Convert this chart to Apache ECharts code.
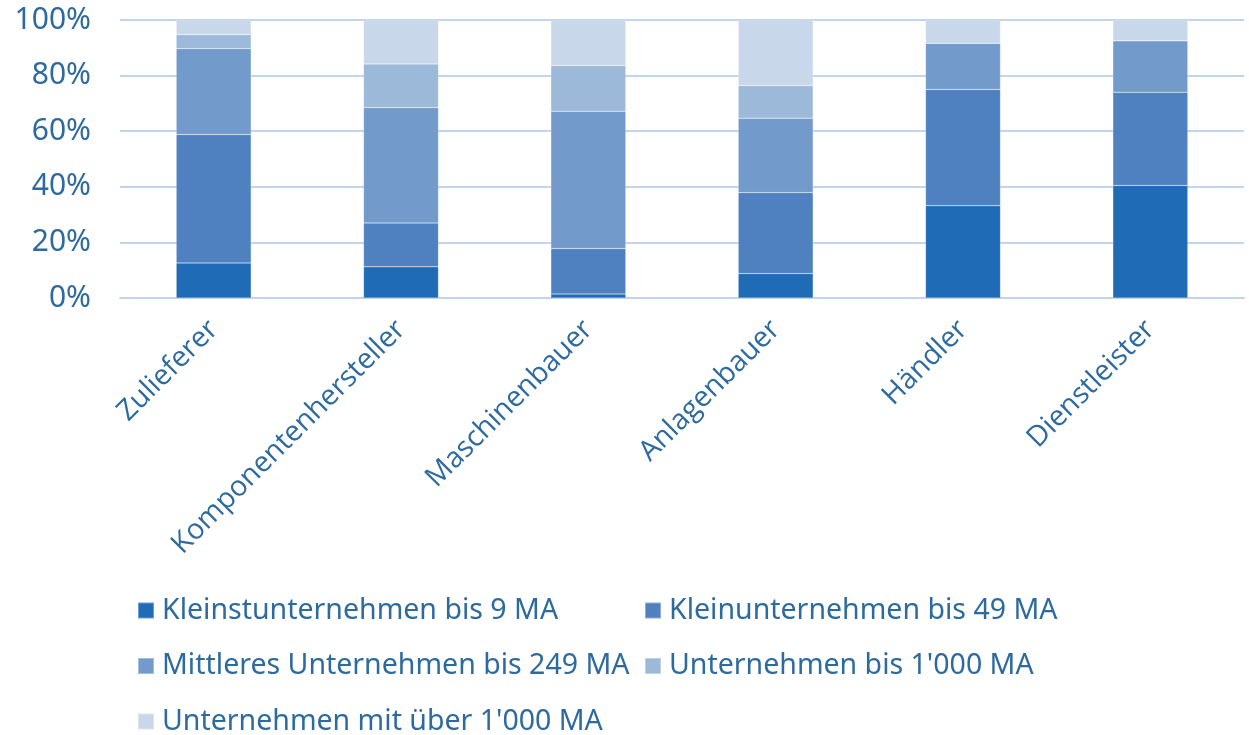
<!DOCTYPE html>
<html>
<head>
<meta charset="utf-8">
<script src="https://cdn.jsdelivr.net/npm/echarts@6/dist/echarts.min.js"></script>
<style>
  html, body { margin: 0; padding: 0; background: #fff; }
  #main { width: 1249px; height: 735px; }
</style>
</head>
<body>
<div id="main"></div>
<script>
// categories and series (percent shares)
var categories = ['Zulieferer', 'Komponentenhersteller', 'Maschinenbauer', 'Anlagenbauer', 'Händler', 'Dienstleister'];
var seriesNames = [
    'Kleinstunternehmen bis 9 MA',
    'Kleinunternehmen bis 49 MA',
    'Mittleres Unternehmen bis 249 MA',
    'Unternehmen bis 1\'000 MA',
    'Unternehmen mit über 1\'000 MA'
];
var kleinst  = [12.6, 11.2, 1.4, 8.8, 33.2, 40.5];
var klein    = [46.2, 15.8, 16.4, 29.1, 41.8, 33.5];
var mittel   = [30.9, 41.5, 49.4, 26.8, 16.6, 18.5];
var bis1000  = [5.0, 15.7, 16.4, 11.7, 0, 0];
var ueber1000 = [5.3, 15.8, 16.4, 23.6, 8.4, 7.5];
var yTicks = [0, 20, 40, 60, 80, 100];

var colors = ['#206BB5', '#4F81C1', '#729BCB', '#9CB9D9', '#C8D8EA'];
var textColor = '#2D6A9F';
var lineColor = '#C3D5EA';

var chart = echarts.init(document.getElementById('main'));

var values = [kleinst, klein, mittel, bis1000, ueber1000];
var series = seriesNames.map(function (name, i) {
    return {
        name: name,
        type: 'bar',
        stack: 'total',
        barWidth: '40%',
        data: values[i],
        itemStyle: { color: colors[i], borderColor: 'rgba(255,255,255,0.35)', borderWidth: 0.5 }
    };
});

function legendBlock(names, left) {
    return {
        orient: 'vertical',
        left: left,
        top: 596,
        height: 220,
        padding: 0,
        itemWidth: 16,
        itemHeight: 16,
        itemGap: 26.5,
        icon: 'rect',
        data: names,
        textStyle: { color: textColor, fontSize: 28.5, fontFamily: 'Noto Sans', padding: [0, 0, 0, 3] }
    };
}

chart.setOption({
    animation: false,
    color: colors,
    grid: { left: 120, right: 5, top: 20, bottom: 437 },
    legend: [
        legendBlock([seriesNames[0], seriesNames[2], seriesNames[4]], 137),
        legendBlock([seriesNames[1], seriesNames[3]], 644)
    ],
    xAxis: {
        type: 'category',
        data: categories,
        axisLine: { show: true, lineStyle: { color: lineColor, width: 2 } },
        axisTick: { show: false },
        axisLabel: {
            rotate: 45,
            margin: 27,
            color: textColor,
            fontSize: 28.5,
            fontFamily: 'Open Sans'
        }
    },
    yAxis: {
        type: 'value',
        min: 0,
        max: 100,
        interval: 20,
        axisLine: { show: false },
        axisTick: { show: false },
        splitLine: { lineStyle: { color: lineColor, width: 2 } },
        axisLabel: {
            margin: 29,
            color: textColor,
            fontSize: 30,
            fontFamily: 'Noto Sans',
            formatter: function (v) { return yTicks.indexOf(v) >= 0 ? v + '%' : ''; }
        }
    },
    series: series
});
</script>
</body>
</html>
